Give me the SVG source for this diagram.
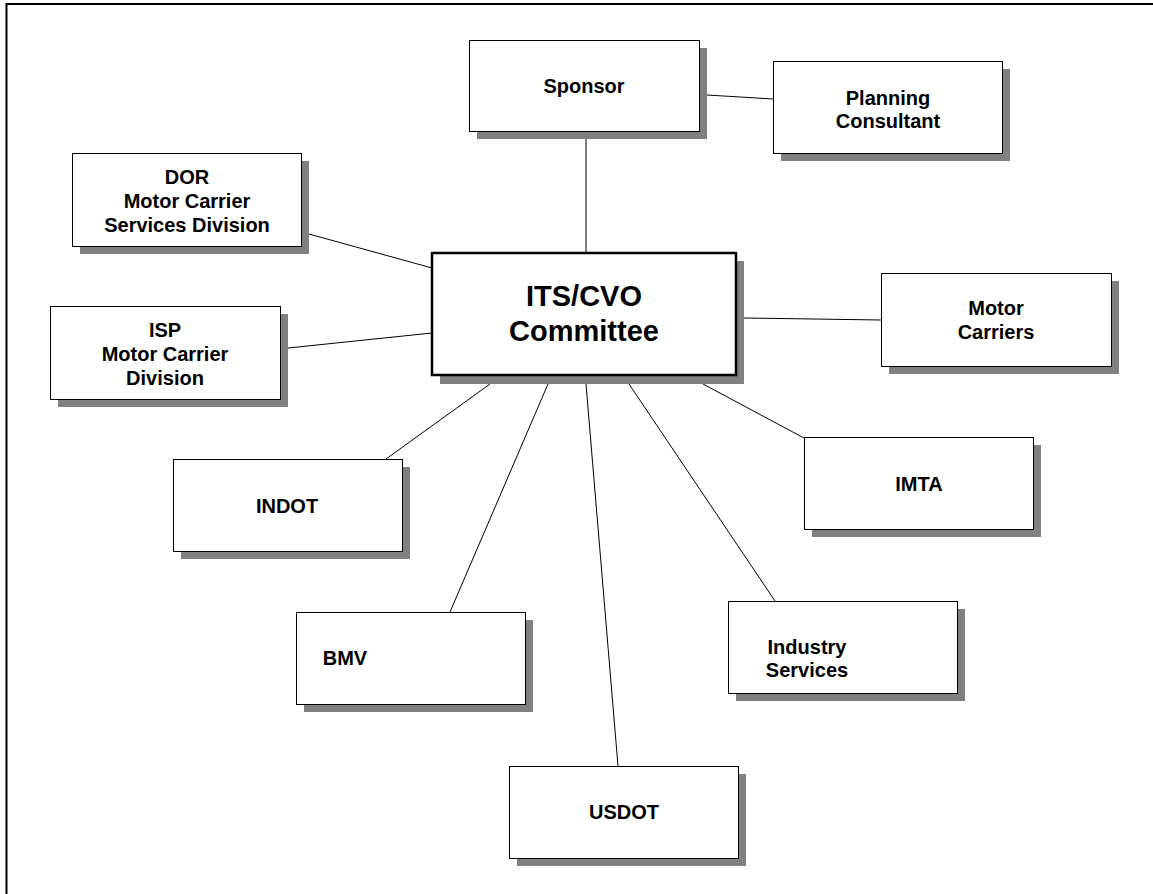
<svg xmlns="http://www.w3.org/2000/svg" width="1153" height="894" viewBox="0 0 1153 894">
<style>
.bg{fill:#ffffff}
.frame{fill:none;stroke:#000;stroke-width:2}
.sh{fill:#808080}
.box{fill:#fff;stroke:#000;stroke-width:1}
.main{fill:#fff;stroke:#000;stroke-width:2.5}
.t{font-family:"Liberation Sans",Arial,sans-serif;font-weight:bold;font-size:20px;fill:#000;text-anchor:middle}
.tm{font-family:"Liberation Sans",Arial,sans-serif;font-weight:bold;font-size:29px;fill:#000;text-anchor:middle}
.c{stroke:#000;stroke-width:1;fill:none}
</style>
<rect class="bg" x="0" y="0" width="1153" height="894"/>
<path class="frame" d="M6.5 894 V4 H1153"/>
<g id="connectors">
<line class="c" x1="586" y1="139" x2="586" y2="253"/>
<line class="c" x1="707" y1="95" x2="773" y2="99"/>
<line class="c" x1="309" y1="234" x2="432" y2="268"/>
<line class="c" x1="288" y1="348" x2="432" y2="333"/>
<line class="c" x1="744" y1="318" x2="881" y2="320"/>
<line class="c" x1="703" y1="384" x2="804" y2="438"/>
<line class="c" x1="490" y1="384" x2="386" y2="459"/>
<line class="c" x1="548" y1="384" x2="450" y2="612"/>
<line class="c" x1="586" y1="384" x2="618" y2="766"/>
<line class="c" x1="629" y1="384" x2="775" y2="601"/>
</g>
<g id="sponsor">
<rect class="sh" x="477" y="48" width="230" height="91"/>
<rect class="box" x="469.5" y="40.5" width="230" height="91"/>
<text class="t" x="584" y="93">Sponsor</text>
</g>
<g id="planning">
<rect class="sh" x="781" y="69" width="229" height="92"/>
<rect class="box" x="773.5" y="61.5" width="229" height="92"/>
<text class="t" x="888" y="105">Planning</text>
<text class="t" x="888" y="128">Consultant</text>
</g>
<g id="dor">
<rect class="sh" x="80" y="161" width="229" height="93"/>
<rect class="box" x="72.5" y="153.5" width="229" height="93"/>
<text class="t" x="187" y="184">DOR</text>
<text class="t" x="187" y="208">Motor Carrier</text>
<text class="t" x="187" y="232">Services Division</text>
</g>
<g id="isp">
<rect class="sh" x="58" y="314" width="230" height="93"/>
<rect class="box" x="50.5" y="306.5" width="230" height="93"/>
<text class="t" x="165" y="337">ISP</text>
<text class="t" x="165" y="361">Motor Carrier</text>
<text class="t" x="165" y="385">Division</text>
</g>
<g id="its">
<rect class="sh" x="440" y="261" width="304" height="123"/>
<rect class="main" x="432" y="253" width="304" height="122"/>
<text class="tm" x="584" y="306">ITS/CVO</text>
<text class="tm" x="584" y="341">Committee</text>
</g>
<g id="motor">
<rect class="sh" x="889" y="281" width="230" height="93"/>
<rect class="box" x="881.5" y="273.5" width="230" height="93"/>
<text class="t" x="996" y="315">Motor</text>
<text class="t" x="996" y="339">Carriers</text>
</g>
<g id="imta">
<rect class="sh" x="812" y="445" width="229" height="92"/>
<rect class="box" x="804.5" y="437.5" width="229" height="92"/>
<text class="t" x="919" y="491">IMTA</text>
</g>
<g id="indot">
<rect class="sh" x="181" y="467" width="229" height="92"/>
<rect class="box" x="173.5" y="459.5" width="229" height="92"/>
<text class="t" x="287" y="513">INDOT</text>
</g>
<g id="bmv">
<rect class="sh" x="304" y="620" width="229" height="92"/>
<rect class="box" x="296.5" y="612.5" width="229" height="92"/>
<text class="t" x="345" y="665">BMV</text>
</g>
<g id="industry">
<rect class="sh" x="736" y="609" width="229" height="92"/>
<rect class="box" x="728.5" y="601.5" width="229" height="92"/>
<text class="t" x="807" y="654">Industry</text>
<text class="t" x="807" y="677">Services</text>
</g>
<g id="usdot">
<rect class="sh" x="517" y="774" width="229" height="92"/>
<rect class="box" x="509.5" y="766.5" width="229" height="92"/>
<text class="t" x="624" y="819">USDOT</text>
</g>
</svg>
